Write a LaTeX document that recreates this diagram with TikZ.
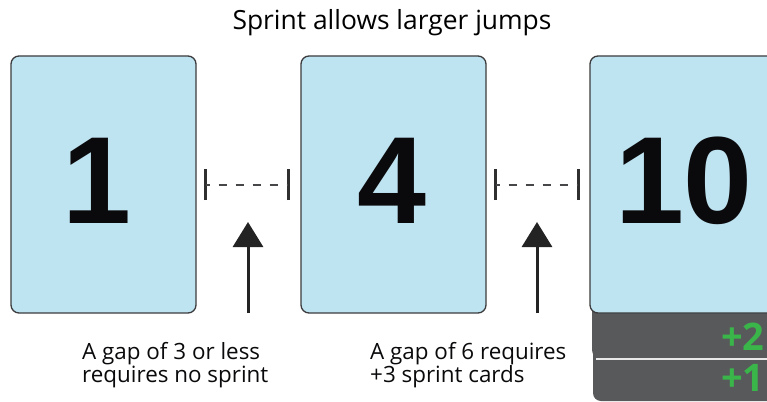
\documentclass[tikz,border=0pt]{standalone}
\usepackage{fontspec}
\setmainfont{Open Sans}
\newfontfamily\digitfont{Liberation Sans}
\usetikzlibrary{arrows.meta}
\definecolor{cardblue}{HTML}{BEE3F1}
\definecolor{cardedge}{HTML}{3C3C3E}
\definecolor{darkcard}{HTML}{58595B}
\definecolor{plusgreen}{HTML}{3AB54A}
\definecolor{inkblack}{HTML}{0A0A0C}
\tikzset{
  card/.style={draw=cardedge, line width=1.3pt, fill=cardblue, rounded corners=8pt, minimum width=185pt, minimum height=257pt, inner sep=0pt},
  bignum/.style={font=\digitfont\bfseries\fontsize{124}{124}\selectfont, text=inkblack, inner sep=0pt, anchor=base},
  gapbar/.style={line width=3.5pt, draw=inkblack!85},
  gapline/.style={line width=2pt, draw=inkblack!75, dash pattern=on 8pt off 9pt, dash phase=4pt},
  pointer/.style={line width=3pt, draw=inkblack!90, -{Triangle[width=30pt,length=25pt]}},
  label/.style={font=\fontsize{22.4}{23.5}\selectfont, align=left, anchor=north west, inner sep=0pt, text=inkblack},
  plus/.style={font=\bfseries\fontsize{38}{38}\selectfont, text=plusgreen, inner sep=0pt, anchor=base west}
}
\begin{document}
\begin{tikzpicture}[x=1pt,y=-1pt]
\clip (0,0) rectangle (767,401);
\fill[white] (0,0) rectangle (767,401);
% title
\node[font=\fontsize{26.4}{26.4}\selectfont, anchor=base, inner sep=0pt] (title) at (392,30) {Sprint allows larger jumps};
% dark sprint cards behind card 3
\fill[darkcard, rounded corners=8pt] (593,330) rectangle (780,401);
\fill[darkcard, rounded corners=8pt] (592,290) rectangle (780,358);
\draw[white!82!gray, line width=1.5pt] (596,359) -- (780,359);
% cards
\node[card] (c1) at (103.5,184.5) {};
\node[card] (c2) at (393.5,184.5) {};
\node[card] (c3) at (682.5,184.5) {};
\node[bignum] (n1) at (97,223) {1};
\node[bignum] (n2) at (392,223) {4};
\node[bignum] (n3) at (684,223) {10};
% sprint card numbers
\node[plus] (p2) at (721,350) {+2};
\node[plus] (p1) at (721,391) {+1};
% gap markers
\coordinate (g1a) at ([xshift=9pt]c1.east);
\coordinate (g1b) at ([xshift=-12pt]c2.west);
\coordinate (g2a) at ([xshift=9pt]c2.east);
\coordinate (g2b) at ([xshift=-11pt]c3.west);
\foreach \g in {g1a,g1b,g2a,g2b}{
  \draw[gapbar] ([yshift=-15.5pt]\g) -- ([yshift=15.5pt]\g);
}
\draw[gapline] (g1a) -- (g1b);
\draw[gapline] (g2a) -- (g2b);
% arrows
\coordinate (a1) at (248,313);
\coordinate (a1t) at (248,222);
\coordinate (a2) at (537,313);
\coordinate (a2t) at (537,222);
\draw[pointer] (a1) -- (a1t);
\draw[pointer] (a2) -- (a2t);
% labels
\node[label] (l1) at (82,342) {A gap of 3 or less\\requires no sprint};
\node[label] (l2) at (370,342) {A gap of 6 requires\\+3 sprint cards};
\end{tikzpicture}
\end{document}
